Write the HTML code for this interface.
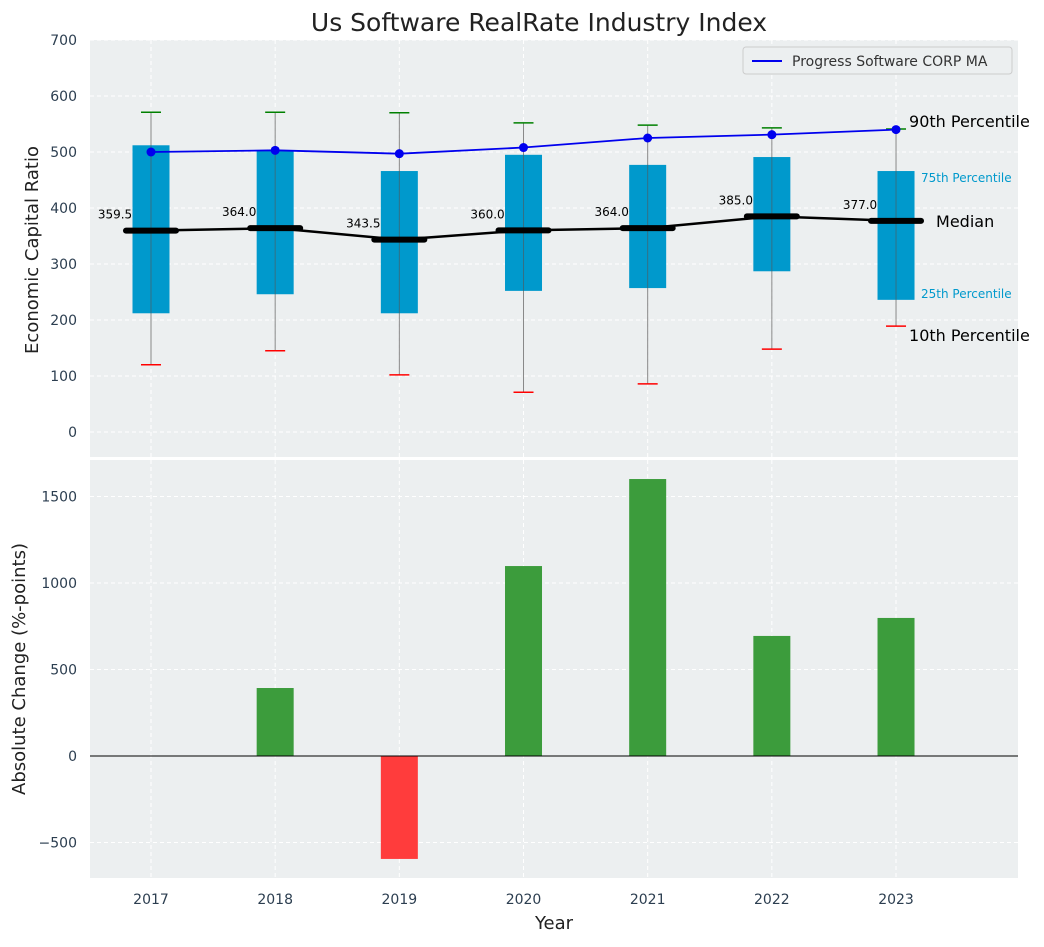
<!DOCTYPE html>
<html><head><meta charset="utf-8"><style>
body{margin:0;background:#fff;font-family:"Liberation Sans","DejaVu Sans",sans-serif}
svg text{font-family:"DejaVu Sans","Liberation Sans",sans-serif}
</style></head><body>
<svg id="c" width="1044" height="942" xmlns="http://www.w3.org/2000/svg"></svg>
<script>
const years=[2017,2018,2019,2020,2021,2022,2023];
const p10=[120,145,102,71,86,148,189];
const p25=[212,246,212,252,257,287,236];
const med=[359.5,364.0,343.5,360.0,364.0,385.0,377.0];
const p75=[512,503,466,495,477,491,466];
const p90=[571,571,570,552,548,543,541];
const ma=[500,503,497,508,525,531,540];
const changes=[0,393,-595,1098,1601,694,798];
const yTicksTop=[0,100,200,300,400,500,600,700];
const yTicksBot=[-500,0,500,1000,1500];

const S=document.getElementById('c');const NS='http://www.w3.org/2000/svg';
function el(t,a,txt){const e=document.createElementNS(NS,t);for(const k in a)e.setAttribute(k,a[k]);if(txt!==undefined)e.textContent=txt;S.appendChild(e);return e;}
const X=v=>151+(v-2017)*124.17;
const YT=v=>432-v*0.56;
const YB=v=>756-v*0.173;
const L=90,R=1018;
let e=el('rect',{x:L,y:40,width:R-L,height:417,fill:'#eceff0'});

e=el('rect',{x:L,y:460,width:R-L,height:418,fill:'#eceff0'});

yTicksTop.forEach(t=>{el('line',{x1:L,x2:R,y1:YT(t),y2:YT(t),stroke:'#fff','stroke-dasharray':'4,3'});
 e=el('text',{x:77,y:YT(t)+5,'text-anchor':'end','font-size':14,fill:'#2c3e50'},t);
 });
yTicksBot.forEach(t=>{el('line',{x1:L,x2:R,y1:YB(t),y2:YB(t),stroke:'#fff','stroke-dasharray':'4,3'});
 e=el('text',{x:77,y:YB(t)+5,'text-anchor':'end','font-size':14,fill:'#2c3e50'},t<0?'\u2212'+(-t):t);
 });
years.forEach(y=>{el('line',{x1:X(y),x2:X(y),y1:40,y2:457,stroke:'#fff','stroke-dasharray':'4,3'});
 el('line',{x1:X(y),x2:X(y),y1:460,y2:878,stroke:'#fff','stroke-dasharray':'4,3'});
 e=el('text',{x:X(y),y:904,'text-anchor':'middle','font-size':14,fill:'#2c3e50'},y);
 });
const hw=18.5;
years.forEach((y,i)=>{const x=X(y);
 el('line',{x1:x,x2:x,y1:YT(p90[i]),y2:YT(p10[i]),stroke:'#888','stroke-width':1});
 e=el('rect',{x:x-hw,y:YT(p75[i]),width:hw*2,height:YT(p25[i])-YT(p75[i]),fill:'#0099cc'});
 
 el('line',{x1:x,x2:x,y1:YT(p75[i]),y2:YT(p25[i]),stroke:'#555','stroke-width':1,opacity:0.6});
 el('line',{x1:x-10,x2:x+10,y1:YT(p90[i]),y2:YT(p90[i]),stroke:'green','stroke-width':1.5});
 el('line',{x1:x-10,x2:x+10,y1:YT(p10[i]),y2:YT(p10[i]),stroke:'red','stroke-width':1.5});
 el('line',{x1:x-25,x2:x+25,y1:YT(med[i]),y2:YT(med[i]),stroke:'#000','stroke-width':6,'stroke-linecap':'round'});
 e=el('text',{x:x-36,y:YT(med[i])-12,'text-anchor':'middle','font-size':12,fill:'#000'},med[i].toFixed(1));
 
});
e=el('polyline',{points:years.map((y,i)=>X(y)+','+YT(med[i])).join(' '),fill:'none',stroke:'#000','stroke-width':2.5});

e=el('polyline',{points:years.map((y,i)=>X(y)+','+YT(ma[i])).join(' '),fill:'none',stroke:'#0000ee','stroke-width':1.8});

years.forEach((y,i)=>{e=el('circle',{cx:X(y),cy:YT(ma[i]),r:4.5,fill:'#0000ee'});
 });
const xl=X(2023);
el('text',{x:xl+13,y:YT(p90[6])-2,'font-size':16,fill:'#000'},'90th Percentile');
el('text',{x:xl+25,y:YT(p75[6])+11,'font-size':12,fill:'#0099cc'},'75th Percentile');
el('text',{x:xl+40,y:YT(med[6])+6,'font-size':16,fill:'#000'},'Median');
el('text',{x:xl+25,y:YT(p25[6])-2,'font-size':12,fill:'#0099cc'},'25th Percentile');
el('text',{x:xl+13,y:YT(p10[6])+15,'font-size':16,fill:'#000'},'10th Percentile');
e=el('rect',{x:743,y:47,width:269,height:27,fill:'#eceff0',stroke:'#ccc',rx:3});

el('line',{x1:752,x2:782,y1:61,y2:61,stroke:'#0000ee','stroke-width':2});
el('text',{x:792,y:66,'font-size':14,fill:'#333'},'Progress Software CORP MA');
years.forEach((y,i)=>{const v=changes[i];const x=X(y);
 e=el('rect',{x:x-hw,y:Math.min(YB(v),YB(0)),width:hw*2,height:Math.abs(YB(v)-YB(0)),fill:v>=0?'#3c9c3c':'#ff3c3c'});
 });
el('line',{x1:L,x2:R,y1:YB(0),y2:YB(0),stroke:'#000','stroke-width':1});
e=el('text',{x:539,y:31,'text-anchor':'middle','font-size':25,fill:'#222'},'Us Software RealRate Industry Index');

e=el('text',{x:0,y:0,'text-anchor':'middle','font-size':18,fill:'#222',transform:'translate(38,250) rotate(-90)'},'Economic Capital Ratio');

e=el('text',{x:0,y:0,'text-anchor':'middle','font-size':18,fill:'#222',transform:'translate(25,669) rotate(-90)'},'Absolute Change (%-points)');

e=el('text',{x:554,y:929,'text-anchor':'middle','font-size':18,fill:'#222'},'Year');

</script></body></html>
